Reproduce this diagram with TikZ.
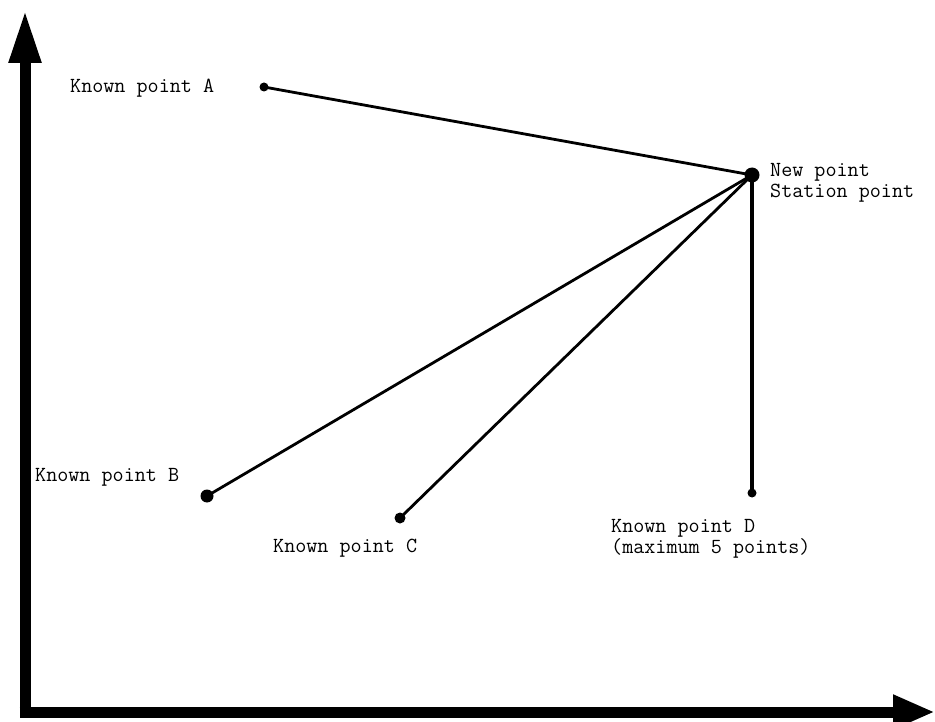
\documentclass[tikz,border=0pt]{standalone}
\usetikzlibrary{arrows.meta}
\begin{document}
\begin{tikzpicture}[x=1pt,y=-1pt,
  pt/.style={circle,fill=black,inner sep=0pt,minimum size=#1},
  lbl/.style={anchor=west,inner sep=0pt,font=\ttfamily\fontsize{21.5}{21}\selectfont,align=left},
  link/.style={line width=2.8pt},
  axis/.style={line width=11pt}]
\useasboundingbox (0,0) rectangle (935,722);
% axes
\coordinate (origin) at (25,712);
\coordinate (ytop) at (25,10);
\coordinate (xend) at (935,712);
\draw[axis,-{Triangle[length=53pt,width=30pt]}] ([yshift=5.5pt]origin) -- (ytop);
\draw[axis,-{Triangle[length=42pt,width=32pt]}] ([xshift=-5.5pt]origin) -- (xend);
% points
\node[pt=9pt] (A) at (264,87) {};
\node[pt=15pt] (N) at (752,175) {};
\node[pt=13pt] (B) at (207,496) {};
\node[pt=11pt] (C) at (400,518) {};
\node[pt=9pt] (D) at (752,493) {};
% connectors
\draw[link] (A.center) -- (N.center);
\draw[link] (B.center) -- (N.center);
\draw[link] (C.center) -- (N.center);
\draw[line width=4.5pt] (N.center) -- (D.center);
% labels
\node[lbl] (tA) at (70,88) {Known point A};
\node[lbl] (tN) at (770,183) {New point\\Station point};
\node[lbl] (tB) at (35,477) {Known point B};
\node[lbl] (tC) at (273,548) {Known point C};
\node[lbl] (tD) at (611,539) {Known point D\\(maximum 5 points)};
\end{tikzpicture}
\end{document}
